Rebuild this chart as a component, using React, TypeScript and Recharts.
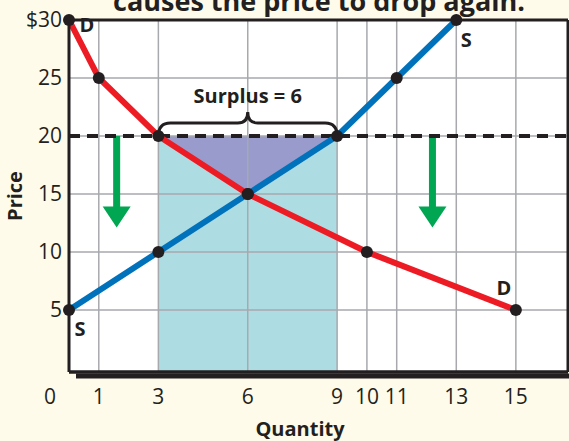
import React from 'react'
import {
  ComposedChart,
  Area,
  Line,
  ReferenceArea,
  ReferenceDot,
  ReferenceLine,
  XAxis,
  YAxis,
} from 'recharts'

const quantityTicks = [0, 1, 3, 6, 9, 10, 11, 13, 15]
const priceTicks = [5, 10, 15, 20, 25, 30]

const demand = [
  { q: 0, p: 30 },
  { q: 1, p: 25 },
  { q: 3, p: 20 },
  { q: 6, p: 15 },
  { q: 10, p: 10 },
  { q: 15, p: 5 },
]

const supply = [
  { q: 0, p: 5 },
  { q: 3, p: 10 },
  { q: 6, p: 15 },
  { q: 9, p: 20 },
  { q: 11, p: 25 },
  { q: 13, p: 30 },
]

// surplus triangle between the price floor and the two curves
const surplusArea = [
  { q: 3, range: [20, 20] },
  { q: 6, range: [15, 20] },
  { q: 9, range: [20, 20] },
]

const floorPrice = 20
const surplusFrom = 3
const surplusTo = 9
const arrowsAt = [1.6, 12.2]
const arrowEnd = 12.1

const X_MAX = 16.75
const Y_MIN = -0.35

const INK = '#231F20'
const GRID = '#A7A9AC'
const FONT = '"Open Sans", sans-serif'

const XTick = (props: any) => {
  const { x, y, payload } = props
  const shift = payload.value === 0 ? -19 : 0
  return (
    <text x={x + shift} y={y + 24} textAnchor="middle" fontSize={21} fill={INK} fontFamily={FONT}>
      {payload.value}
    </text>
  )
}

const YTick = (props: any) => {
  const { x, y, payload } = props
  return (
    <text x={x + 1} y={y + 7} textAnchor="end" fontSize={21} fill={INK} fontFamily={FONT}>
      {payload.value === 30 ? '$30' : payload.value}
    </text>
  )
}

const GridLine = (props: any) => {
  const { x1, y1, x2, y2 } = props
  return <line x1={x1} y1={y1} x2={x2} y2={y2} stroke={GRID} strokeWidth={1.5} />
}

const Brace = (props: any) => {
  const { x1, y1, x2 } = props
  const h = y1 - 13
  const tip = y1 - 24
  const mid = (x1 + x2) / 2
  const d = `M${x1},${y1} Q${x1},${h} ${x1 + 12},${h} L${mid - 10},${h} Q${mid},${h} ${mid},${tip} Q${mid},${h} ${mid + 10},${h} L${x2 - 12},${h} Q${x2},${h} ${x2},${y1}`
  return (
    <g>
      <path d={d} fill="none" stroke={INK} strokeWidth={3} />
      <text x={mid} y={tip - 9} textAnchor="middle" fontSize={20} fontWeight="bold" fill={INK} fontFamily={FONT}>
        Surplus = 6
      </text>
    </g>
  )
}

const Arrow = (props: any) => {
  const { x1, y1, y2 } = props
  const head = 21
  return (
    <g fill="#00A651">
      <rect x={x1 - 3.5} y={y1} width={7} height={y2 - y1 - head + 1} />
      <polygon points={`${x1 - 14},${y2 - head} ${x1 + 14},${y2 - head} ${x1},${y2}`} />
    </g>
  )
}

const BottomEdge = (props: any) => {
  const { x1, y1, x2 } = props
  return (
    <g>
      <line x1={x1 + 7} y1={y1 + 4} x2={x2 + 2} y2={y1 + 4} stroke={INK} strokeWidth={5} />
      <line x1={x1} y1={y1} x2={x2} y2={y1} stroke={INK} strokeWidth={3} />
    </g>
  )
}

const curveLabel = (text: string, dx: number, dy: number) => (props: any) => {
  const { viewBox } = props
  return (
    <text x={viewBox.x + dx} y={viewBox.y + dy} textAnchor="middle" fontSize={20} fontWeight="bold" fill={INK} fontFamily={FONT}>
      {text}
    </text>
  )
}

export default function App() {
  return (
    <div style={{ position: 'absolute', left: 0, top: 0, width: 569, height: 441, background: '#FEFBEA', overflow: 'hidden' }}>
      <div
        style={{
          position: 'absolute',
          top: -18,
          left: 0,
          width: 638,
          textAlign: 'center',
          fontFamily: FONT,
          fontWeight: 'bold',
          fontSize: 27,
          color: INK,
          whiteSpace: 'nowrap',
        }}
      >
        causes the price to drop again.
      </div>
      <ComposedChart width={569} height={441} margin={{ top: 20, right: 1, left: 0, bottom: 0 }} style={{ position: 'absolute', left: 0, top: 0 }}>
        <ReferenceArea x1={0} x2={X_MAX} y1={Y_MIN} y2={30} fill="#FFFFFF" fillOpacity={1} stroke="none" ifOverflow="visible" />
        <ReferenceArea x1={surplusFrom} x2={surplusTo} y1={Y_MIN} y2={floorPrice} fill="#AEDCE3" fillOpacity={1} stroke="none" />
        <Area
          data={surplusArea}
          dataKey="range"
          type="linear"
          fill="#989BCB"
          fillOpacity={1}
          stroke="none"
          isAnimationActive={false}
        />
        {quantityTicks
          .filter((q) => q > 0)
          .map((q) => (
            <ReferenceLine
              key={'gx' + q}
              segment={[
                { x: q, y: Y_MIN },
                { x: q, y: 30 },
              ]}
              ifOverflow="visible"
              shape={GridLine}
            />
          ))}
        {priceTicks
          .filter((p) => p < 30)
          .map((p) => (
            <ReferenceLine
              key={'gy' + p}
              segment={[
                { x: 0, y: p },
                { x: X_MAX, y: p },
              ]}
              ifOverflow="visible"
              shape={GridLine}
            />
          ))}
        <XAxis
          type="number"
          dataKey="q"
          domain={[0, X_MAX]}
          ticks={quantityTicks}
          height={69}
          tickLine={false}
          axisLine={{ stroke: INK, strokeWidth: 3 }}
          tick={XTick}
          label={{
            content: () => (
              <text x={300} y={436} textAnchor="middle" fontSize={20} fontWeight="bold" fill={INK} fontFamily={FONT}>
                Quantity
              </text>
            ),
          }}
        />
        <YAxis
          type="number"
          domain={[Y_MIN, 30]}
          ticks={priceTicks}
          width={69}
          tickLine={false}
          axisLine={{ stroke: INK, strokeWidth: 3 }}
          tick={YTick}
          label={{
            content: () => (
              <text
                x={22}
                y={196}
                transform="rotate(-90 22 196)"
                textAnchor="middle"
                fontSize={20}
                fontWeight="bold"
                fill={INK}
                fontFamily={FONT}
              >
                Price
              </text>
            ),
          }}
        />
        <ReferenceLine y={30} stroke={INK} strokeWidth={3} ifOverflow="visible" />
        <ReferenceLine x={X_MAX} stroke={INK} strokeWidth={3} ifOverflow="visible" />
        <ReferenceLine
          segment={[
            { x: 0, y: Y_MIN },
            { x: X_MAX, y: Y_MIN },
          ]}
          ifOverflow="visible"
          shape={BottomEdge}
        />
        {arrowsAt.map((q) => (
          <ReferenceLine
            key={q}
            segment={[
              { x: q, y: floorPrice },
              { x: q, y: arrowEnd },
            ]}
            shape={Arrow}
          />
        ))}
        <ReferenceLine y={floorPrice} stroke={INK} strokeWidth={4} strokeDasharray="11 7" />
        <ReferenceLine
          segment={[
            { x: surplusFrom, y: floorPrice },
            { x: surplusTo, y: floorPrice },
          ]}
          shape={Brace}
        />
        <Line
          data={supply}
          dataKey="p"
          type="linear"
          stroke="#0072BC"
          strokeWidth={6}
          dot={{ r: 6, fill: INK, stroke: 'none' }}
          isAnimationActive={false}
        />
        <Line
          data={demand}
          dataKey="p"
          type="linear"
          stroke="#ED1C24"
          strokeWidth={6}
          dot={{ r: 6, fill: INK, stroke: 'none' }}
          isAnimationActive={false}
        />
        <ReferenceDot x={0} y={30} r={0} fill="none" stroke="none" ifOverflow="visible" label={{ content: curveLabel('D', 18, 12) }} />
        <ReferenceDot x={13} y={30} r={0} fill="none" stroke="none" ifOverflow="visible" label={{ content: curveLabel('S', 10, 27) }} />
        <ReferenceDot x={0} y={5} r={0} fill="none" stroke="none" ifOverflow="visible" label={{ content: curveLabel('S', 11, 26) }} />
        <ReferenceDot x={15} y={5} r={0} fill="none" stroke="none" ifOverflow="visible" label={{ content: curveLabel('D', -12, -15) }} />
      </ComposedChart>
    </div>
  )
}
